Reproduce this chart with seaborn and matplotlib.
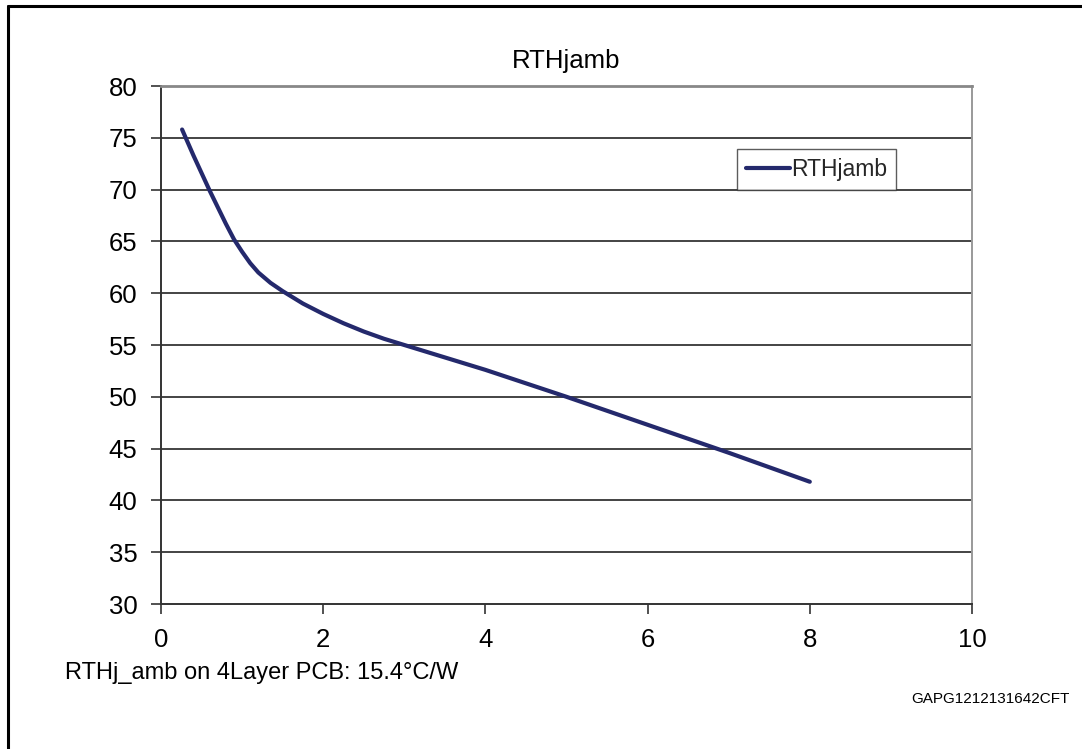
import matplotlib
matplotlib.use("Agg")
import matplotlib.pyplot as plt
from matplotlib import font_manager
import seaborn as sns
import pandas as pd

# ---- data ----
x_vals = [0.26, 0.4, 0.5, 0.6, 0.7, 0.8, 0.9, 1.0, 1.1, 1.2, 1.35, 1.5, 1.75,
          2.0, 2.25, 2.5, 2.75, 3.0, 3.5, 4.0, 5.0, 6.0, 7.0, 8.0]
rth_vals = [75.8, 73.3, 71.6, 69.9, 68.3, 66.7, 65.2, 64.0, 62.9, 62.0, 61.0, 60.2, 59.0,
            58.0, 57.1, 56.3, 55.6, 55.0, 53.8, 52.6, 50.0, 47.3, 44.6, 41.8]
series_name = "RTHjamb"
title_text = "RTHjamb"
x_ticks = [0, 2, 4, 6, 8, 10]
y_ticks = [30, 35, 40, 45, 50, 55, 60, 65, 70, 75, 80]
note_text = "RTHj_amb on 4Layer PCB: 15.4°C/W"
code_text = "GAPG1212131642CFT"

df = pd.DataFrame({"x": x_vals, "y": rth_vals, "series": series_name})

sns.set_theme(style="white")
plt.rcParams["font.family"] = ["Liberation Sans", "DejaVu Sans"]

names = {f.name for f in font_manager.fontManager.ttflist}
narrow = "Liberation Sans Narrow" if "Liberation Sans Narrow" in names else "Liberation Sans"

W, H = 1082, 749
fig = plt.figure(figsize=(W / 100, H / 100), dpi=100)
fig.patch.set_facecolor("white")

ax_l, ax_r, ax_t, ax_b = 161, 972, 86, 604
ax = fig.add_axes([ax_l / W, 1 - ax_b / H, (ax_r - ax_l) / W, (ax_b - ax_t) / H])

for yv in y_ticks[1:-1]:
    ax.axhline(yv, color="#111111", lw=1.1, zorder=1)

sns.lineplot(data=df, x="x", y="y", hue="series", palette=["#24296c"],
             lw=3.0, ax=ax, zorder=3, solid_capstyle="round", solid_joinstyle="round")

ax.set_xlim(0, 10)
ax.set_ylim(30, 80)
ax.set_xticks(x_ticks)
ax.set_yticks(y_ticks)
ax.set_xlabel("")
ax.set_ylabel("")
ax.tick_params(axis="both", which="major", labelsize=18.5, colors="#222222",
               length=7, width=1.1, direction="out", pad=10)
ax.tick_params(axis="x", bottom=True)
ax.tick_params(axis="y", left=True)
for lab in ax.get_xticklabels() + ax.get_yticklabels():
    lab.set_color("black")

ax.spines["left"].set_color("#333333")
ax.spines["left"].set_linewidth(1.4)
ax.spines["bottom"].set_color("#333333")
ax.spines["bottom"].set_linewidth(1.4)
ax.spines["top"].set_color("#888888")
ax.spines["top"].set_linewidth(2.0)
ax.spines["right"].set_color("#999999")
ax.spines["right"].set_linewidth(1.4)

ax.set_title(title_text, fontsize=18.5, pad=13, color="black")

leg = ax.legend(loc="upper left", bbox_to_anchor=((737 - ax_l) / (ax_r - ax_l), (ax_b - 149) / (ax_b - ax_t)),
                fontsize=16.5, frameon=True, fancybox=False, handlelength=1.9,
                handletextpad=0.05, borderpad=0.4, borderaxespad=0)
leg.get_frame().set_edgecolor("#333333")
leg.get_frame().set_linewidth(1.0)
for line in leg.get_lines():
    line.set_linewidth(3.0)

# outer frame (left and top edges visible)
fig.add_artist(plt.Line2D([8 / W, 8 / W], [0, 1 - 6 / H], transform=fig.transFigure,
                          color="black", lw=2.2))
fig.add_artist(plt.Line2D([8 / W, 1], [1 - 6 / H, 1 - 6 / H], transform=fig.transFigure,
                          color="black", lw=2.2))

fig.text(65 / W, 1 - 679 / H, note_text, fontsize=17, family=narrow, color="black",
         ha="left", va="baseline")
fig.text(1070 / W, 1 - 703 / H, code_text, fontsize=11, family=narrow, color="black",
         ha="right", va="baseline")

fig.savefig("out.png", dpi=100, facecolor="white")
